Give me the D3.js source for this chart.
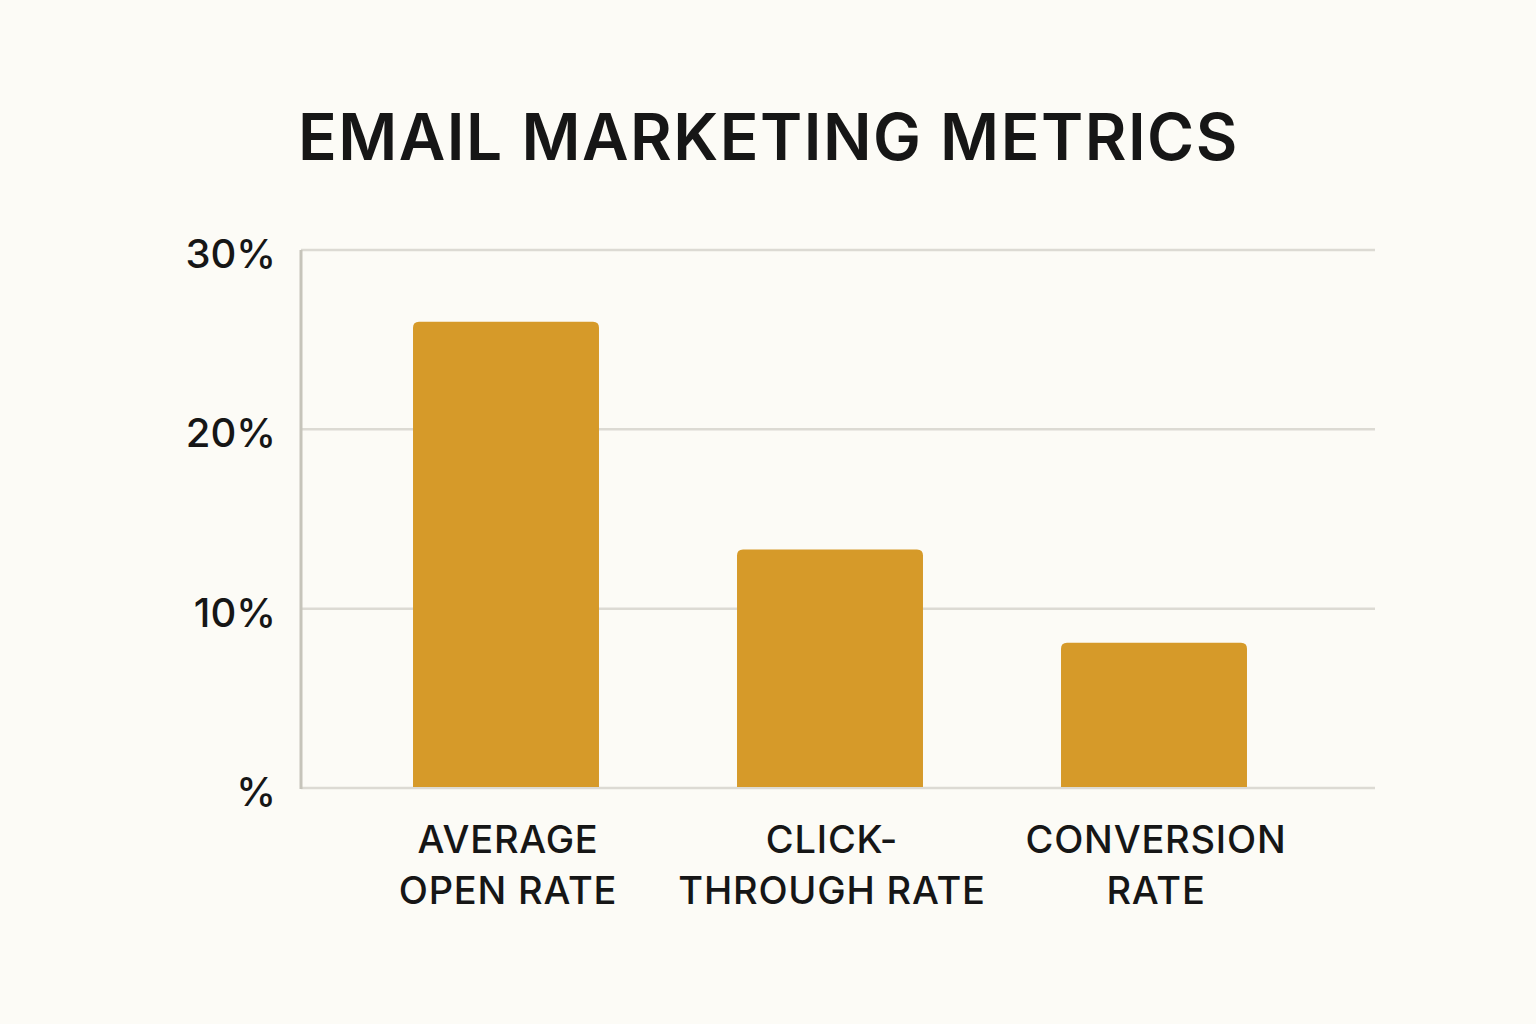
<!DOCTYPE html>
<html>
<head>
<meta charset="utf-8">
<script src="https://cdn.jsdelivr.net/npm/d3@7"></script>
<style>
  html, body { margin: 0; padding: 0; background: #fcfbf6; }
  svg { display: block; }
  text { font-family: Inter, "Noto Sans", sans-serif; fill: #161616; }
</style>
</head>
<body>
<div id="chart"></div>
<script>
var categories = [["AVERAGE", "OPEN RATE"], ["CLICK-", "THROUGH RATE"], ["CONVERSION", "RATE"]];
var values = [26, 13.3, 8.1];
var tickValues = [0, 10, 20, 30];
var tickLabels = ["%", "10%", "20%", "30%"];

(function () {
    var width = 1536, height = 1024;
    var margin = { top: 250, right: 161, bottom: 236, left: 301 };

    var svg = d3.select("#chart").append("svg")
        .attr("width", width)
        .attr("height", height);

    svg.append("rect")
        .attr("width", width).attr("height", height)
        .attr("fill", "#fcfbf6");

    // title
    svg.append("text")
        .attr("x", 298)
        .attr("y", 160)
        .attr("font-size", 64)
        .attr("font-weight", 600)
        .attr("letter-spacing", 1.5)
        .text("EMAIL MARKETING METRICS");

    var y = d3.scaleLinear()
        .domain([0, 30])
        .range([height - margin.bottom, margin.top]);

    var x = d3.scaleBand()
        .domain(d3.range(categories.length))
        .range([344, 1316])
        .paddingInner(0.426)
        .paddingOuter(0.213);

    // grid lines
    svg.append("g")
        .selectAll("line")
        .data(tickValues)
        .enter().append("line")
        .attr("x1", margin.left)
        .attr("x2", width - margin.right)
        .attr("y1", d => y(d))
        .attr("y2", d => y(d))
        .attr("stroke", "#dcdad3")
        .attr("stroke-width", 2.5);

    // left axis line
    svg.append("line")
        .attr("x1", margin.left).attr("x2", margin.left)
        .attr("y1", y(30)).attr("y2", y(0) + 1)
        .attr("stroke", "#c6c4ba")
        .attr("stroke-width", 3);

    // tick labels
    svg.append("g")
        .selectAll("text")
        .data(tickValues)
        .enter().append("text")
        .attr("x", 276)
        .attr("y", d => y(d) + 18)
        .attr("text-anchor", "end")
        .attr("font-size", 40)
        .attr("font-weight", 500)
        .text((d, i) => tickLabels[i]);

    // bars, rounded top corners only
    var r = 6;
    function barPath(d, i) {
        var x0 = x(i), x1 = x(i) + x.bandwidth();
        var y0 = y(d), y1 = y(0) - 1;
        return "M" + x0 + "," + y1 +
            "L" + x0 + "," + (y0 + r) +
            "Q" + x0 + "," + y0 + " " + (x0 + r) + "," + y0 +
            "L" + (x1 - r) + "," + y0 +
            "Q" + x1 + "," + y0 + " " + x1 + "," + (y0 + r) +
            "L" + x1 + "," + y1 + "Z";
    }

    svg.append("g")
        .selectAll("path")
        .data(values)
        .enter().append("path")
        .attr("d", barPath)
        .attr("fill", "#d69a29");

    // category labels
    var labels = svg.append("g")
        .selectAll("text")
        .data(categories)
        .enter().append("text")
        .attr("text-anchor", "middle")
        .attr("font-size", 38)
        .attr("font-weight", 500)
        .attr("letter-spacing", 0.8);

    labels.selectAll("tspan")
        .data((d, i) => d.map(t => ({ t: t, i: i })))
        .enter().append("tspan")
        .attr("x", d => x(d.i) + x.bandwidth() / 2 + 2)
        .attr("y", (d, j) => 853 + j * 51)
        .text(d => d.t);
})();
</script>
</body>
</html>
